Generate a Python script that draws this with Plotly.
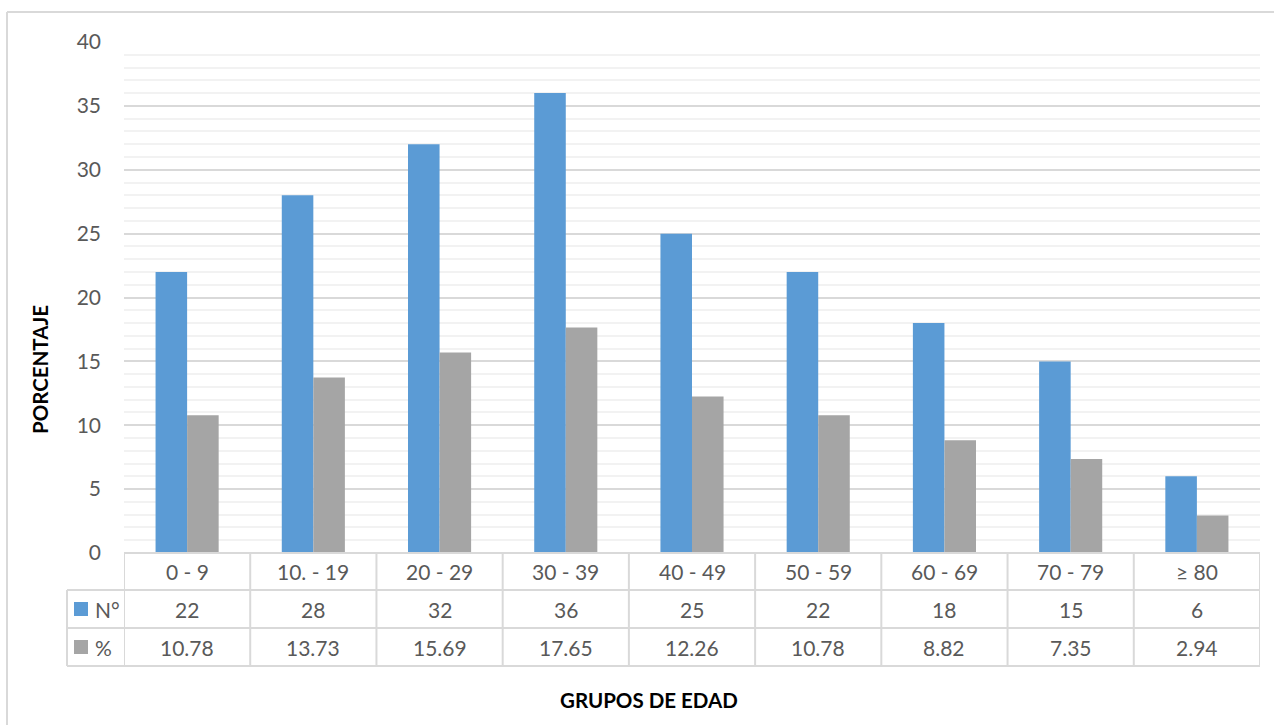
import plotly.graph_objects as go

# Age groups and counts / percentages
grupos = ["0 - 9", "10. - 19", "20 - 29", "30 - 39", "40 - 49", "50 - 59", "60 - 69", "70 - 79", "≥ 80"]
numero = [22, 28, 32, 36, 25, 22, 18, 15, 6]
porcentaje = [10.78, 13.73, 15.69, 17.65, 12.26, 10.78, 8.82, 7.35, 2.94]
y_ticks = [0, 5, 10, 15, 20, 25, 30, 35, 40]

BLUE = "#5B9BD5"
GRAY = "#A5A5A5"
LINE = "#D9D9D9"
TXT = "#595959"
FONT = "Lato"

W, H = 1274, 725
L, R, T, B = 124, 14, 42, 172          # plot area in pixels
PW, PH = W - L - R, H - T - B

def py(pix):
    """pixel row -> paper y"""
    return (H - B - pix) / PH

def px(pix):
    """pixel column -> paper x"""
    return (pix - L) / PW

xs = list(range(len(grupos)))

fig = go.Figure()
fig.add_bar(x=xs, y=numero, name="N°", marker=dict(color=BLUE, line=dict(width=0)))
fig.add_bar(x=xs, y=porcentaje, name="%", marker=dict(color=GRAY, line=dict(width=0)))

shapes = []
annotations = []

# data table below the plot
row_top = H - B                 # 553
rows = [row_top, 590, 628, 666]
n = len(grupos)
# horizontal lines
shapes.append(dict(type="line", xref="paper", yref="paper", x0=0, x1=1,
                   y0=py(rows[0]), y1=py(rows[0]), line=dict(color=LINE, width=2)))
for r in rows[1:]:
    shapes.append(dict(type="line", xref="paper", yref="paper", x0=px(67), x1=1,
                       y0=py(r), y1=py(r), line=dict(color=LINE, width=2)))
# vertical lines
for i in range(n + 1):
    shapes.append(dict(type="line", xref="x", yref="paper", x0=i - 0.5, x1=i - 0.5,
                       y0=py(rows[0]), y1=py(rows[3]), line=dict(color=LINE, width=2)))
shapes.append(dict(type="line", xref="paper", yref="paper", x0=px(67), x1=px(67),
                   y0=py(rows[1]), y1=py(rows[3]), line=dict(color=LINE, width=2)))

# legend keys inside the table
for (r0, r1), col, lab in [((rows[1], rows[2]), BLUE, "N°"), ((rows[2], rows[3]), GRAY, "%")]:
    cy = (r0 + r1) / 2
    shapes.append(dict(type="rect", xref="paper", yref="paper", x0=px(74), x1=px(88),
                       y0=py(cy + 7), y1=py(cy - 7), fillcolor=col, line=dict(width=0)))
    annotations.append(dict(xref="paper", yref="paper", x=px(93), y=py(cy), text=lab,
                            showarrow=False, xanchor="left", yanchor="middle",
                            font=dict(family=FONT, size=21, color=TXT)))

# table cell texts
for i in range(n):
    for (r0, r1), txt in [((rows[0], rows[1]), grupos[i]),
                          ((rows[1], rows[2]), str(numero[i])),
                          ((rows[2], rows[3]), f"{porcentaje[i]:.2f}")]:
        annotations.append(dict(xref="x", yref="paper", x=i, y=py((r0 + r1) / 2), text=txt,
                                showarrow=False, xanchor="center", yanchor="middle",
                                font=dict(family=FONT, size=21, color=TXT)))

# outer chart frame
shapes.append(dict(type="line", xref="paper", yref="paper", x0=px(7), x1=px(W + 5),
                   y0=py(12), y1=py(12), line=dict(color=LINE, width=2)))
shapes.append(dict(type="line", xref="paper", yref="paper", x0=px(7), x1=px(7),
                   y0=py(12), y1=py(H + 5), line=dict(color=LINE, width=2)))

# axis titles
annotations.append(dict(xref="paper", yref="paper", x=px(649), y=py(700), text="<b>GRUPOS DE EDAD</b>",
                        showarrow=False, xanchor="center", yanchor="middle",
                        font=dict(family=FONT, size=20.5, color="#000000")))
annotations.append(dict(xref="paper", yref="paper", x=px(40), y=py(370), text="<b>PORCENTAJE</b>",
                        showarrow=False, xanchor="center", yanchor="middle", textangle=-90,
                        font=dict(family=FONT, size=20.5, color="#000000")))

fig.update_layout(
    width=W, height=H,
    margin=dict(l=L, r=R, t=T, b=B),
    paper_bgcolor="white", plot_bgcolor="white",
    barmode="group", bargap=0.5, bargroupgap=0,
    showlegend=False,
    shapes=shapes, annotations=annotations,
    xaxis=dict(range=[-0.5, n - 0.5], showticklabels=False, showgrid=False,
               zeroline=False, showline=False, fixedrange=True),
    yaxis=dict(range=[0, 40], tickvals=y_ticks, showgrid=True, gridcolor=LINE, gridwidth=2,
               zeroline=False, showline=False, ticks="", ticklabelstandoff=22,
               tickfont=dict(family=FONT, size=21, color=TXT),
               minor=dict(dtick=1, showgrid=True, gridcolor="#F2F2F2", gridwidth=2)),
)

fig.write_html("out.html")
